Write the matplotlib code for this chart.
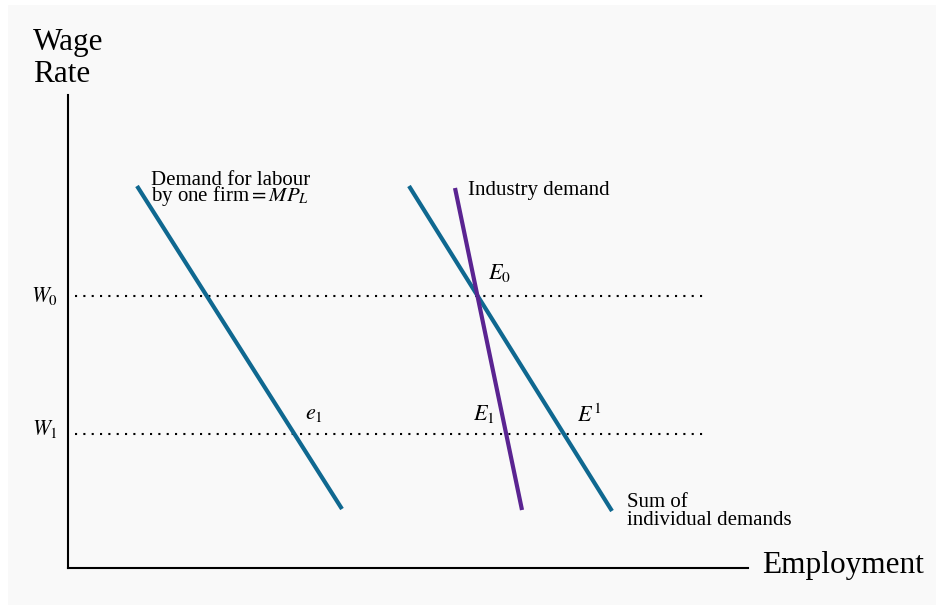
import matplotlib
matplotlib.use("Agg")
import matplotlib.pyplot as plt
from matplotlib.patches import Rectangle

plt.rcParams['font.family'] = ['Liberation Serif', 'DejaVu Serif']
plt.rcParams['mathtext.fontset'] = 'stix'

# Data (in chart units; origin at axes corner)
firm_x = [69, 274]
firm_y = [382, 59]
sum_x = [341, 544]
sum_y = [382, 57]
ind_x = [387, 454]
ind_y = [380, 58]
wage_levels = [272, 134]
wage_labels = [r'$W_0$', r'$W_1$']
dotted_x = [7, 637]

blue = '#0f6890'
purple = '#5a2491'

fig = plt.figure(figsize=(9.36, 6.05), dpi=100, facecolor='white')
bg = Rectangle((8/936, 0), 1 - 8/936, 1 - 5/605, transform=fig.transFigure,
               facecolor='#f9f9f9', edgecolor='none', zorder=-10)
fig.patches.append(bg)

ax = fig.add_axes([68/936, (605-568)/605, (748-68)/936, (568-95)/605])
ax.set_zorder(1)
ax.set_facecolor('none')
ax.set_xlim(0, 680)
ax.set_ylim(0, 473)
for s in ['top', 'right']:
    ax.spines[s].set_visible(False)
for s in ['left', 'bottom']:
    ax.spines[s].set_linewidth(1.5)
ax.set_xticks([])
ax.set_yticks([])

for w in wage_levels:
    ax.plot(dotted_x, [w, w], color='black', linewidth=1.5, linestyle=(0, (1, 3)), zorder=1)

ax.plot(firm_x, firm_y, color=blue, linewidth=3, solid_capstyle='butt', zorder=2)
ax.plot(sum_x, sum_y, color=blue, linewidth=3, solid_capstyle='butt', zorder=2)
ax.plot(ind_x, ind_y, color=purple, linewidth=3, solid_capstyle='butt', zorder=3)

# Wage labels
wage_baselines = [266, 133]
for lab, yb in zip(wage_labels, wage_baselines):
    ax.text(-10, yb, lab, ha='right', va='baseline', fontsize=15.5, clip_on=False)

ax.text(-35, 518, 'Wage', ha='left', va='baseline', fontsize=22.5, clip_on=False)
ax.text(-35, 486, 'Rate', ha='left', va='baseline', fontsize=22.5, clip_on=False)
ax.text(694, -5, 'Employment', ha='left', va='baseline', fontsize=22.5, clip_on=False)

ax.text(83, 383, 'Demand for labour', ha='left', va='baseline', fontsize=15)
ax.text(83, 367, r'by one firm$= MP_L$', ha='left', va='baseline', fontsize=15)
ax.text(400, 373, 'Industry demand', ha='left', va='baseline', fontsize=15)
ax.text(559, 61, 'Sum of', ha='left', va='baseline', fontsize=15)
ax.text(559, 43, 'individual demands', ha='left', va='baseline', fontsize=15)

ax.text(420, 289, r'$E_0$', ha='left', va='baseline', fontsize=16)
ax.text(237, 149, r'$e_1$', ha='left', va='baseline', fontsize=16)
ax.text(405, 148, r'$E_1$', ha='left', va='baseline', fontsize=16)
ax.text(509, 146, r'$E^1$', ha='left', va='baseline', fontsize=16)

fig.savefig('out.png', dpi=100, facecolor=fig.get_facecolor())
